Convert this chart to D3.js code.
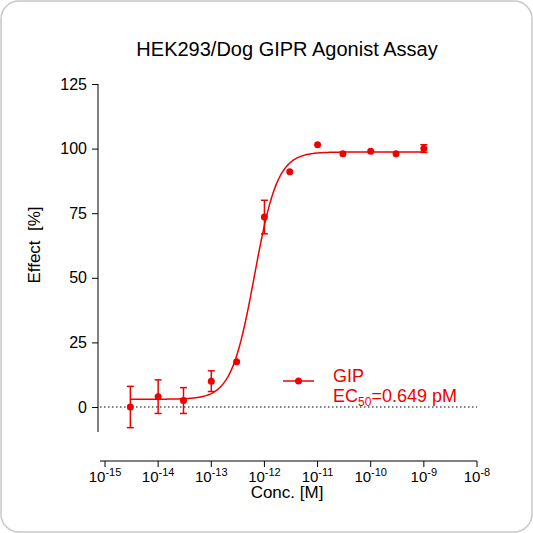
<!DOCTYPE html>
<html><head><meta charset="utf-8">
<script src="https://cdn.jsdelivr.net/npm/d3@7"></script>
<style>body{margin:0;background:#fff}svg{font-family:Arial,"Liberation Sans",sans-serif}</style>
</head><body><svg width="533" height="533"></svg>
<script>
// measured points
const conc = [3e-15, 1e-14, 3e-14, 1e-13, 3e-13, 1e-12, 3e-12, 1e-11, 3e-11, 1e-10, 3e-10, 1e-9];
const effect = [0, 4, 2.5, 10, 17.5, 73.5, 91, 101.5, 98, 99, 98, 100];
const errs = [8, 6.5, 5, 4, 1, 6.5, 0.5, 0.5, 0.5, 0.5, 0.5, 1.5];
// fit parameters
const fitBottom = 3, fitTop = 98.7, ec50 = 0.649e-12, hill = 2;
const yTicks = [0, 25, 50, 75, 100, 125];
const xTicks = [-15, -14, -13, -12, -11, -10, -9, -8];

const svg = d3.select('svg');
svg.append('rect').attr('x', 1).attr('y', 1).attr('width', 531).attr('height', 531)
    .attr('rx', 18).attr('fill', '#fff').attr('stroke', '#c8c8c8').attr('stroke-width', 1.5);

const x = d3.scaleLog().domain([1e-15, 1e-8]).range([105, 477]);
const y = d3.scaleLinear().domain([0, 125]).range([407, 84]);
const red = '#f00000';

svg.append('text').attr('x', 287).attr('y', 56).attr('text-anchor', 'middle')
    .attr('font-size', 20).text('HEK293/Dog GIPR Agonist Assay');

// y axis
const ya = svg.append('g').attr('transform', 'translate(98,0)')
    .call(d3.axisLeft(y).tickValues(yTicks).tickSize(6).tickPadding(5));
ya.select('.domain').attr('d', 'M0,84V432');
ya.selectAll('text').attr('font-size', 16);

// x axis
const xa = svg.append('g').attr('transform', 'translate(0,461)');
xa.append('line').attr('x1', 100).attr('x2', 477).attr('stroke', '#000');
xTicks.forEach(e => {
    xa.append('line').attr('x1', x(Math.pow(10, e))).attr('x2', x(Math.pow(10, e)))
        .attr('y2', 6).attr('stroke', '#000');
    const t = xa.append('text').attr('x', x(Math.pow(10, e))).attr('y', 21)
        .attr('text-anchor', 'middle').attr('font-size', 15);
    t.append('tspan').text('10');
    t.append('tspan').attr('dy', -6).attr('font-size', 11).text(e);
});

svg.append('text').attr('x', 287).attr('y', 498).attr('text-anchor', 'middle')
    .attr('font-size', 17).text('Conc. [M]');
svg.append('text').attr('transform', 'translate(40,245) rotate(-90)').attr('text-anchor', 'middle')
    .attr('font-size', 17).attr('xml:space', 'preserve').text('Effect  [%]');

// zero line
svg.append('line').attr('x1', 100).attr('x2', 477).attr('y1', y(0)).attr('y2', y(0))
    .attr('stroke', '#000').attr('stroke-dasharray', '1.5,2.5');

// fitted curve
const curveX = d3.range(Math.log10(3e-15), -9 + 0.001, 0.02).map(l => Math.pow(10, l));
const fit = c => fitBottom + (fitTop - fitBottom) / (1 + Math.pow(ec50 / c, hill));
svg.append('path').datum(curveX).attr('fill', 'none').attr('stroke', red).attr('stroke-width', 1.5)
    .attr('d', d3.line().x(d => x(d)).y(d => y(fit(d))));

// points and error bars
const g = svg.append('g');
conc.forEach((c, i) => {
    const cx = x(c);
    if (errs[i] > 1) {
        g.append('line').attr('x1', cx).attr('x2', cx).attr('y1', y(effect[i] - errs[i])).attr('y2', y(effect[i] + errs[i]))
            .attr('stroke', red).attr('stroke-width', 1.5);
        [-1, 1].forEach(s => g.append('line').attr('x1', cx - 3.5).attr('x2', cx + 3.5)
            .attr('y1', y(effect[i] + s * errs[i])).attr('y2', y(effect[i] + s * errs[i]))
            .attr('stroke', red).attr('stroke-width', 1.5));
    }
    g.append('circle').attr('cx', cx).attr('cy', y(effect[i])).attr('r', 3.5).attr('fill', red);
});

// legend
svg.append('line').attr('x1', 283).attr('x2', 314).attr('y1', 381).attr('y2', 381).attr('stroke', red).attr('stroke-width', 1.5);
svg.append('circle').attr('cx', 298.5).attr('cy', 381).attr('r', 3.5).attr('fill', red);
svg.append('text').attr('x', 333).attr('y', 382).attr('fill', red).attr('font-size', 18).text('GIP');
const ec = svg.append('text').attr('x', 333).attr('y', 402).attr('fill', red).attr('font-size', 18);
ec.append('tspan').text('EC');
ec.append('tspan').attr('dy', 4).attr('font-size', 12).text('50');
ec.append('tspan').attr('dy', -4).text('=0.649 pM');
</script></body></html>
